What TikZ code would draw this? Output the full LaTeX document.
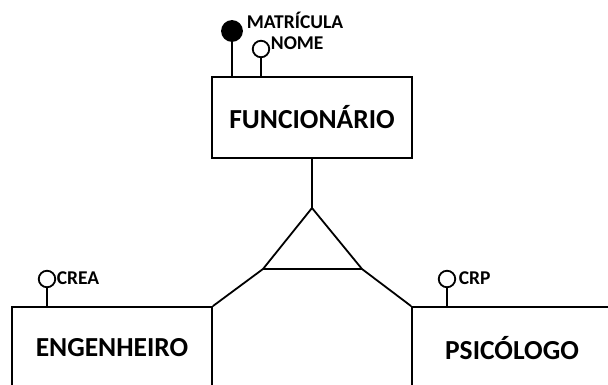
\documentclass[tikz,border=0pt]{standalone}
\usepackage{fontspec}
\setmainfont{Carlito}
\usepackage{tikz}
\usetikzlibrary{calc}
\tikzset{entbox/.style={draw, line width=1.8pt, minimum width=200pt, inner sep=0pt,
    font=\fontsize{27.5}{30}\selectfont\bfseries},
  attrkey/.style={circle, fill=black, draw, line width=1.8pt, minimum size=20pt, inner sep=0pt},
  attrop/.style={circle, draw, line width=1.8pt, fill=white, minimum size=16.5pt, inner sep=0pt},
  attrname/.style={anchor=west, inner sep=0pt, font=\fontsize{19.5}{22}\selectfont\bfseries}}

\begin{document}
\begin{tikzpicture}[x=1pt, y=-1pt, line width=1.8pt]
            \useasboundingbox (0,0) rectangle (608,385);
            \clip (0,0) rectangle (608,385);
            % entidades
            \node[entbox, minimum height=81pt] (func) at (312,117.5) {FUNCIONÁRIO};
            \node[entbox, minimum height=82pt] (eng) at (112,348) {ENGENHEIRO};
            \node[entbox, minimum height=82pt] (psi) at (512,348) {PSICÓLOGO};
            % especializacao
            \coordinate (apex) at (312,208);
            \coordinate (baseL) at (263,269);
            \coordinate (baseR) at (362,269);
            \draw (func.south) -- (apex);
            \draw[line join=round] (apex) -- (baseL) -- (baseR) -- cycle;
            \draw (baseL) -- (eng.north east);
            \draw (baseR) -- (psi.north west);
            % atributos
            \node[attrkey] (mat) at (232,31) {};
            \node[attrop] (nome) at (261,49) {};
            \node[attrop] (crea) at (47,279) {};
            \node[attrop] (crp) at (447,279) {};
            \draw (mat.south) -- (mat |- func.north);
            \draw (nome.south) -- (nome |- func.north);
            \draw (crea.south) -- (crea |- eng.north);
            \draw (crp.south) -- (crp |- psi.north);
            \node[attrname] (matlbl) at (246,20) {MATRÍCULA};
            \node[attrname] (nomelbl) at (270,43) {NOME};
            \node[attrname] (crealbl) at (56,278) {CREA};
            \node[attrname] (crplbl) at (458,278) {CRP};
        \end{tikzpicture}
\end{document}
